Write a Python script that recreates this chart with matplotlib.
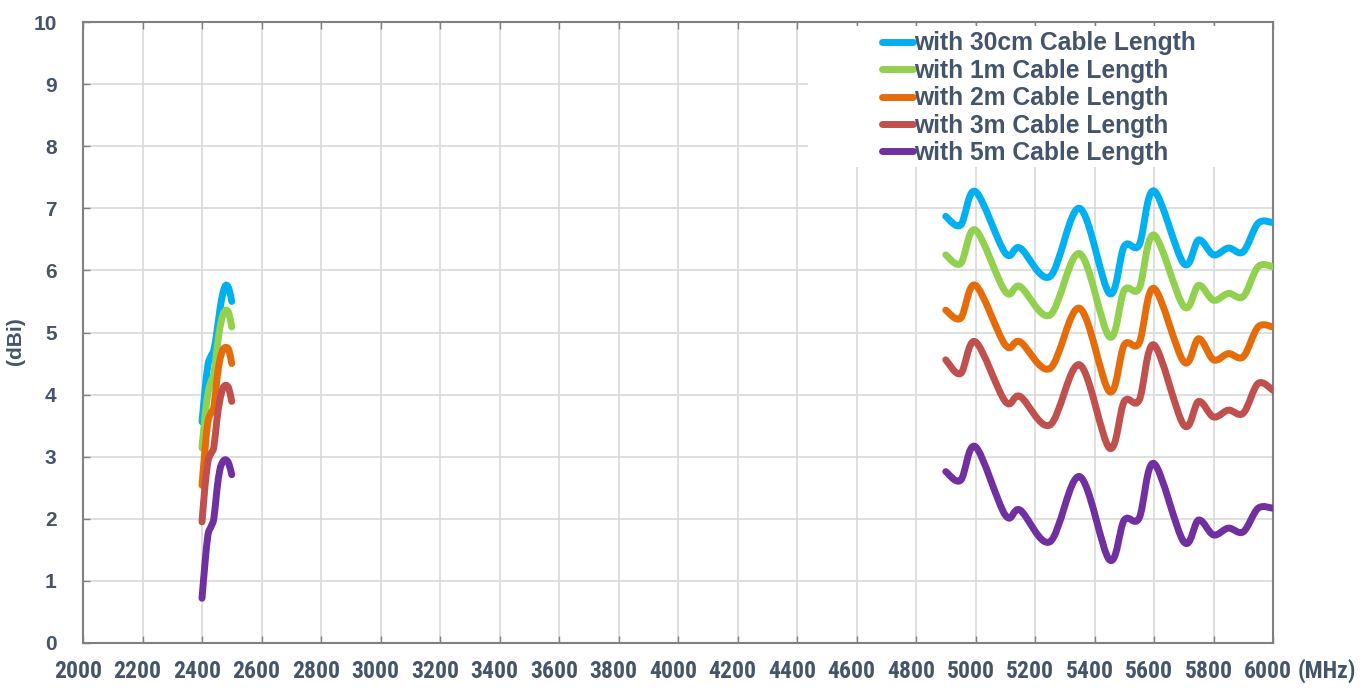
import numpy as np
import matplotlib
matplotlib.use('Agg')
import matplotlib.pyplot as plt
from matplotlib.path import Path
from matplotlib.patches import PathPatch, Rectangle
from matplotlib.lines import Line2D
from matplotlib.transforms import ScaledTranslation
from matplotlib import font_manager as fm

# ---------------- data ----------------
labels = ['with 30cm Cable Length', 'with 1m Cable Length', 'with 2m Cable Length',
          'with 3m Cable Length', 'with 5m Cable Length']
colors = ['#00B0F0', '#92D050', '#E46C0A', '#C0504D', '#7030A0']

low_freq = [2400, 2410, 2420, 2430, 2440, 2450, 2460, 2470, 2480, 2490, 2500]
low_30cm = [3.56, 4.07, 4.48, 4.62, 4.72, 5.01, 5.36, 5.63, 5.76, 5.71, 5.50]
low_1m = [3.14, 3.64, 4.02, 4.21, 4.34, 4.72, 5.07, 5.28, 5.36, 5.31, 5.09]
low_2m = [2.54, 3.11, 3.56, 3.70, 3.81, 4.24, 4.56, 4.72, 4.76, 4.72, 4.50]
low_3m = [1.95, 2.52, 2.92, 3.05, 3.16, 3.59, 3.91, 4.10, 4.15, 4.10, 3.89]
low_5m = [0.72, 1.28, 1.74, 1.87, 2.01, 2.46, 2.79, 2.92, 2.95, 2.89, 2.71]

high_freq = [4900, 4950, 5000, 5100, 5150, 5250, 5350, 5450, 5500, 5550,
             5600, 5700, 5750, 5800, 5850, 5900, 5950, 6000]
high_30cm = [6.87, 6.73, 7.27, 6.28, 6.36, 5.90, 7.00, 5.63, 6.39, 6.41,
             7.28, 6.11, 6.49, 6.25, 6.36, 6.30, 6.76, 6.77]
high_1m = [6.25, 6.11, 6.65, 5.66, 5.74, 5.28, 6.27, 4.93, 5.68, 5.71,
           6.57, 5.42, 5.76, 5.52, 5.63, 5.58, 6.06, 6.06]
high_2m = [5.36, 5.23, 5.76, 4.80, 4.85, 4.42, 5.39, 4.05, 4.80, 4.83,
           5.71, 4.53, 4.90, 4.56, 4.66, 4.61, 5.09, 5.09]
high_3m = [4.56, 4.34, 4.85, 3.89, 3.97, 3.51, 4.48, 3.14, 3.89, 3.91,
           4.80, 3.51, 3.89, 3.64, 3.75, 3.70, 4.18, 4.07]
high_5m = [2.76, 2.62, 3.16, 2.06, 2.14, 1.63, 2.68, 1.34, 1.98, 2.01,
           2.89, 1.63, 1.98, 1.74, 1.85, 1.79, 2.17, 2.17]

low_series = [low_30cm, low_1m, low_2m, low_3m, low_5m]
high_series = [high_30cm, high_1m, high_2m, high_3m, high_5m]

x_ticks = list(range(2000, 6001, 200))
y_ticks = list(range(0, 11))

TEXT = '#44546A'


def has_font(name):
    try:
        fm.findfont(fm.FontProperties(family=name), fallback_to_default=False)
        return True
    except Exception:
        return False


main_font = 'Liberation Sans' if has_font('Liberation Sans') else 'DejaVu Sans'


def narrow_props(size):
    """Find a bold condensed/narrow font if one is installed."""
    prefs = ['liberation sans narrow', 'arial narrow', 'roboto condensed',
             'dejavu sans condensed', 'open sans condensed', 'noto sans condensed']
    best = None
    for f in fm.fontManager.ttflist:
        nm = f.name.lower()
        fn = f.fname.lower()
        narrow = ('narrow' in nm or 'condensed' in nm or 'narrow' in fn
                  or 'condensed' in fn or f.stretch in ('condensed', 'semi-condensed'))
        if not narrow:
            continue
        w = f.weight if isinstance(f.weight, int) else (700 if 'bold' in str(f.weight) else 400)
        if 'bold' in fn and 'semibold' not in fn:
            w = max(w, 700)
        rank = 10
        for k, p in enumerate(prefs):
            if p in nm or p.replace(' ', '') in fn.replace('-', '').replace('_', ''):
                rank = k
                break
        score = (rank, 0 if w >= 700 else 1, 'italic' in fn or 'oblique' in fn)
        if best is None or score < best[0]:
            best = (score, f)
    if best is not None and not best[0][2]:
        return fm.FontProperties(fname=best[1].fname, size=size), True
    return fm.FontProperties(family=main_font, weight='bold', size=size - 3), False


xfont, is_narrow = narrow_props(17)


def smooth_path(xs, ys):
    """Excel-style smoothed line: cubic Bezier through the data points."""
    pts = np.column_stack([xs, ys]).astype(float)
    n = len(pts)
    verts = [pts[0]]
    codes = [Path.MOVETO]
    for i in range(n - 1):
        p0 = pts[i - 1] if i > 0 else pts[i]
        p1 = pts[i]
        p2 = pts[i + 1]
        p3 = pts[i + 2] if i + 2 < n else pts[i + 1]
        c1 = p1 + (p2 - p0) / 6.0
        c2 = p2 - (p3 - p1) / 6.0
        verts += [c1, c2, p2]
        codes += [Path.CURVE4] * 3
    return Path(verts, codes)


fig = plt.figure(figsize=(13.67, 6.97), dpi=100)
ax = fig.add_axes([83 / 1367, 54 / 697, 1190 / 1367, 621 / 697])

ax.set_xlim(2000, 6000)
ax.set_ylim(0, 10)
ax.set_xticks(x_ticks)
ax.set_yticks(y_ticks)
ax.grid(True, color='#D9D9D9', linewidth=1.2, zorder=0)
ax.set_axisbelow(True)

for s in ax.spines.values():
    s.set_color('#808080')
    s.set_linewidth(1.5)

ax.tick_params(axis='both', direction='in', length=5, width=1, color='#808080',
               top=True, right=False)
ax.tick_params(axis='y', pad=19)
ax.tick_params(axis='x', pad=12)

for lbl in ax.get_yticklabels():
    lbl.set_fontfamily(main_font)
    lbl.set_fontweight('bold')
    lbl.set_fontsize(15)
    lbl.set_color(TEXT)

shift = ScaledTranslation(-5 / 100, 0, fig.dpi_scale_trans)
for lbl in ax.get_xticklabels():
    lbl.set_fontproperties(xfont)
    lbl.set_color(TEXT)
    lbl.set_transform(lbl.get_transform() + shift)

# white legend area (covers gridlines)
ax.add_patch(Rectangle((0.609, 0.7665), 0.391, 0.227, transform=ax.transAxes,
                       facecolor='white', edgecolor='none', zorder=1.5))

for i in range(5):
    for xs, ys in [(low_freq, low_series[i]), (high_freq, high_series[i])]:
        patch = PathPatch(smooth_path(xs, ys), facecolor='none', edgecolor=colors[i],
                          linewidth=5, capstyle='round', joinstyle='round', zorder=3)
        ax.add_patch(patch)

handles = [Line2D([], [], color=c, linewidth=5, solid_capstyle='round') for c in colors]
leg = ax.legend(handles, labels, loc='upper left', bbox_to_anchor=(0.6714, 0.985),
                frameon=False, borderpad=0, borderaxespad=0, handlelength=1.25,
                handletextpad=0.05, labelspacing=0.14,
                prop={'family': main_font, 'weight': 'bold', 'size': 17.7})
for t in leg.get_texts():
    t.set_color(TEXT)
leg.set_zorder(4)

ax.annotate('(MHz)', xy=(1, 0), xycoords='axes fraction', xytext=(25, -16),
            textcoords='offset pixels', ha='left', va='top',
            fontproperties=xfont, color=TEXT)

fig.text(15 / 1367, 1 - 341 / 697, '(dBi)', rotation=90, ha='center', va='center',
         fontfamily=main_font, fontweight='bold', fontsize=15, color=TEXT)

fig.savefig('out.png', dpi=100)
